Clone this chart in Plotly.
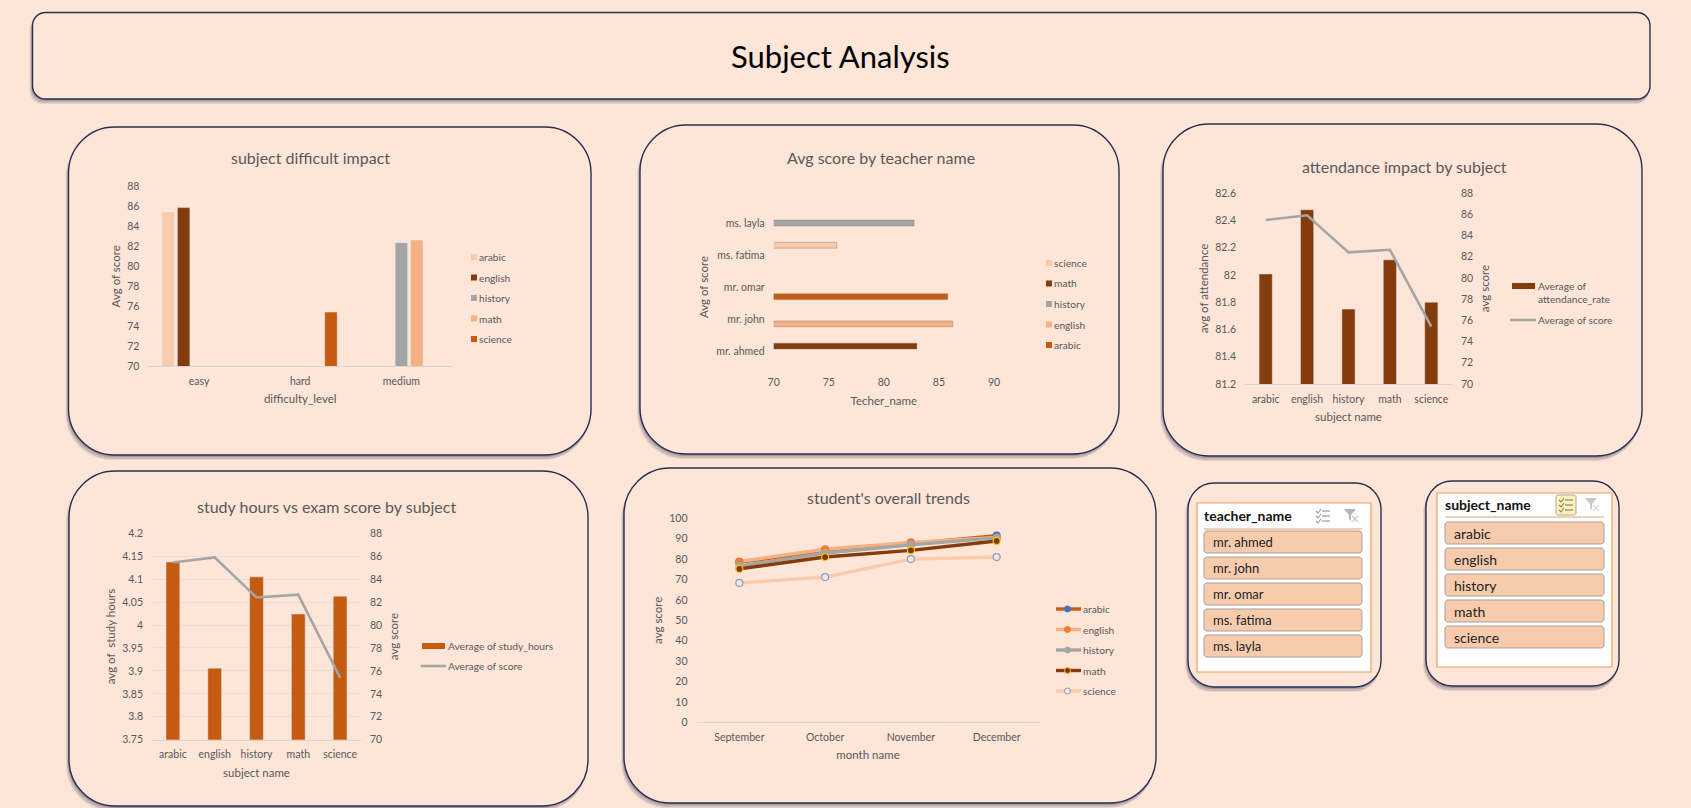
import plotly.graph_objects as go

W, H = 1691, 808
BG = "#fde5d8"
NAVY = "#2a2f4f"
TXT = "#595959"
FONT = "Lato"

subjects = ["arabic", "english", "history", "math", "science"]
difficulty_levels = ["easy", "hard", "medium"]
teachers = ["mr. ahmed", "mr. john", "mr. omar", "ms. fatima", "ms. layla"]
months = ["September", "October", "November", "December"]

# avg score per subject, difficulty
diff_arabic = [85.46, None, None]
diff_english = [85.9, None, None]
diff_history = [None, None, 82.38]
diff_math = [None, None, 82.65]
diff_science = [None, 75.42, None]

# avg score per teacher
teach_arabic = [None, None, 85.8, None, None]
teach_english = [None, 86.25, None, None, None]
teach_history = [None, None, None, None, 82.74]
teach_math = [83.0, None, None, None, None]
teach_science = [None, None, None, 75.72, None]

avg_score = [85.46, 85.9, 82.4, 82.65, 75.4]
avg_attendance = [82.007, 82.477, 81.749, 82.11, 81.8]
avg_study_hours = [4.1375, 3.906, 4.105, 4.024, 4.063]

# monthly trends
trend_arabic = [78.5, 84.0, 87.5, 91.5]
trend_english = [78.8, 84.8, 88.2, 90.6]
trend_history = [76.6, 83.0, 87.0, 90.4]
trend_math = [75.2, 81.0, 84.3, 88.9]
trend_science = [68.3, 71.2, 80.0, 81.0]


def X(px):
    return px / W


def Y(py):
    return 1 - py / H


def round_rect(x0, y0, x1, y1, r):
    # svg path in paper coords with rounded corners
    k = 0.45 * r
    pts = [
        ("M", x0 + r, y0), ("L", x1 - r, y0),
        ("C", x1 - k, y0, x1, y0 + k, x1, y0 + r), ("L", x1, y1 - r),
        ("C", x1, y1 - k, x1 - k, y1, x1 - r, y1), ("L", x0 + r, y1),
        ("C", x0 + k, y1, x0, y1 - k, x0, y1 - r), ("L", x0, y0 + r),
        ("C", x0, y0 + k, x0 + k, y0, x0 + r, y0),
    ]
    out = ""
    for p in pts:
        out += p[0]
        vals = p[1:]
        out += " ".join(
            f"{X(vals[i]):.5f},{Y(vals[i + 1]):.5f}" for i in range(0, len(vals), 2)
        )
        out += " "
    return out + "Z"


shapes = []
notes = []


def add_box(x0, y0, x1, y1, r, fill, line=None, width=1.0):
    shapes.append(dict(type="path", xref="paper", yref="paper", layer="below",
                       path=round_rect(x0, y0, x1, y1, r), fillcolor=fill,
                       line=dict(color=line or fill, width=width if line else 0)))


def add_card(x0, y0, x1, y1, r):
    # soft drop shadow, then the card itself
    for dx, dy, op in [(3, 5, 0.10), (2, 4, 0.16), (1, 2, 0.22)]:
        shapes.append(dict(type="path", xref="paper", yref="paper", layer="below",
                           path=round_rect(x0 - dx, y0 + dy, x1 - dx / 2, y1 + dy, r),
                           fillcolor=NAVY, opacity=op, line=dict(width=0)))
    add_box(x0, y0, x1, y1, r, BG, NAVY, 1.4)


def add_text(x, y, text, size=10.2, color=TXT, anchor="left", bold=False):
    if bold:
        text = f"<b>{text}</b>"
    if anchor == "left":
        x -= 2  # annotation padding
    notes.append(dict(x=X(x), y=Y(y), xref="paper", yref="paper", text=text, showarrow=False,
                      xanchor=anchor, yanchor="middle", align="left",
                      font=dict(family=FONT, size=size, color=color)))


def add_line(x0, y0, x1, y1, color, width):
    shapes.append(dict(type="line", xref="paper", yref="paper", layer="below",
                       x0=X(x0), y0=Y(y0), x1=X(x1), y1=Y(y1),
                       line=dict(color=color, width=width)))


def square_key(x, y, name, color):
    shapes.append(dict(type="rect", xref="paper", yref="paper", layer="below",
                       x0=X(x), x1=X(x + 6), y0=Y(y - 3), y1=Y(y + 3),
                       fillcolor=color, line=dict(width=0)))
    add_text(x + 8, y, name)


def dot(x, y, r, fill, line, lw=1.0):
    shapes.append(dict(type="circle", xref="paper", yref="paper", layer="below",
                       x0=X(x - r), x1=X(x + r), y0=Y(y - r), y1=Y(y + r),
                       fillcolor=fill, line=dict(color=line, width=lw)))


def list_icon(cx, cy, color):
    for dy in (-5, 0, 5):
        add_line(cx - 1, cy + dy, cx + 7, cy + dy, color, 1.2)
        shapes.append(dict(type="path", xref="paper", yref="paper", layer="below",
                           path=f"M{X(cx - 7)},{Y(cy + dy)} L{X(cx - 5)},{Y(cy + dy + 2)} L{X(cx - 2)},{Y(cy + dy - 2)}",
                           line=dict(color=color, width=1.1)))


def clear_icon(cx, cy, color, xcolor):
    shapes.append(dict(type="path", xref="paper", yref="paper", layer="below",
                       path=f"M{X(cx - 7)},{Y(cy - 6)} L{X(cx + 5)},{Y(cy - 6)} L{X(cx)},{Y(cy)} L{X(cx)},{Y(cy + 6)} L{X(cx - 2)},{Y(cy + 4)} L{X(cx - 2)},{Y(cy)} Z",
                       fillcolor=color, line=dict(width=0)))
    add_line(cx + 1, cy + 1, cx + 7, cy + 7, xcolor, 1.2)
    add_line(cx + 7, cy + 1, cx + 1, cy + 7, xcolor, 1.2)


def slicer(card, panel, head, rule_y, items, item_x, item_ys, text_x, title_x, title_y, size):
    add_card(*card, 26)
    add_box(*panel, 0, "#ffffff", "#e8a060", 1.2)
    add_text(title_x, title_y, head, size=14, color="#111111", bold=True)
    add_line(item_x[0], rule_y, item_x[1], rule_y, "#e8a060", 1)
    for name, (y0, y1) in zip(items, item_ys):
        add_box(item_x[0], y0, item_x[1], y1, 3, "#f8cbad", "#a5a09c", 1)
        add_text(text_x + 1, (y0 + y1) / 2, name, size=size, color="#222222")


COL = dict(pale="#f8cbad", dark="#843c0c", grey="#a5a5a5", peach="#f4b183", orange="#c55a11")
fig = go.Figure()

# --- subject difficult impact
diff_series = [diff_arabic, diff_english, diff_history, diff_math, diff_science]
diff_colors = [COL["pale"], COL["dark"], COL["grey"], COL["peach"], COL["orange"]]
for name, vals, c in zip(subjects, diff_series, diff_colors):
    fig.add_trace(go.Bar(x=difficulty_levels, y=vals, name=name, marker_color=c,
                         width=0.124, xaxis="x", yaxis="y", showlegend=False))

# --- avg score by teacher
teach_series = [teach_arabic, teach_english, teach_history, teach_math, teach_science]
teach_colors = [COL["orange"], COL["peach"], COL["grey"], COL["dark"], COL["pale"]]
for name, vals, c in zip(subjects, teach_series, teach_colors):
    fig.add_trace(go.Bar(y=teachers, x=vals, name=name, orientation="h", width=0.18,
                         marker=dict(color=c, line=dict(color="#7f7060", width=0.4)),
                         xaxis="x2", yaxis="y2", showlegend=False))

# --- attendance
fig.add_trace(go.Bar(x=subjects, y=avg_attendance, name="Average of attendance_rate", width=0.32,
                     marker_color=COL["dark"], xaxis="x3", yaxis="y3", showlegend=False))
fig.add_trace(go.Scatter(x=subjects, y=avg_score, name="Average of score", mode="lines",
                         line=dict(color=COL["grey"], width=2.6), xaxis="x3", yaxis="y4", showlegend=False))

# --- study hours
fig.add_trace(go.Bar(x=subjects, y=avg_study_hours, name="Average of study_hours", width=0.33,
                     marker_color=COL["orange"], xaxis="x4", yaxis="y5", showlegend=False))
fig.add_trace(go.Scatter(x=subjects, y=avg_score, name="Average of score", mode="lines",
                         line=dict(color=COL["grey"], width=2.6), xaxis="x4", yaxis="y6", showlegend=False))

# --- trends
trend_series = [trend_arabic, trend_english, trend_history, trend_math, trend_science]
trend_lines = [COL["orange"], COL["peach"], COL["grey"], COL["dark"], COL["pale"]]
trend_fill = ["#4472c4", "#ed7d31", "#a5a5a5", "#7a3a08", BG]
trend_edge = ["#4472c4", "#ed7d31", "#a5a5a5", "#ffc000", "#7f9fd0"]
for name, vals, lc, mf, me in zip(subjects, trend_series, trend_lines, trend_fill, trend_edge):
    fig.add_trace(go.Scatter(x=months, y=vals, name=name, mode="lines+markers",
                             line=dict(color=lc, width=3.4),
                             marker=dict(size=7, color=mf, line=dict(color=me, width=1.2)),
                             xaxis="x5", yaxis="y7", showlegend=False))

# --- background cards
add_card(32.5, 12.5, 1650, 99, 13)
add_text(840, 56, "Subject Analysis", size=31, color="#000000", anchor="center")

add_card(68.5, 127, 591, 455, 46)
add_card(640, 125, 1119, 454, 46)
add_card(1163, 124, 1642, 456, 46)
add_card(69, 471, 588, 806, 46)
add_card(624, 468, 1156, 803, 46)

add_text(310, 157, "subject difficult impact", size=16, anchor="center")
add_text(881, 157, "Avg score by teacher name", size=16, anchor="center")
add_text(1404, 167, "attendance impact by subject", size=16, anchor="center")
add_text(326.5, 506, "study hours vs exam score by subject", size=16, anchor="center")
add_text(888.5, 497, "student's overall trends", size=16, anchor="center")

# --- legends
for i, (name, c) in enumerate(zip(subjects, diff_colors)):
    square_key(471, 257 + i * 20.5, name, c)
for i, (name, c) in enumerate(zip(reversed(subjects), reversed(teach_colors))):
    square_key(1046, 263 + i * 20.5, name, c)

add_line(1512, 286, 1535, 286, COL["dark"], 6)
add_text(1538, 286, "Average of")
add_text(1538, 299, "attendance_rate")
add_line(1510, 320, 1536, 320, COL["grey"], 2.6)
add_text(1538, 320, "Average of score")

add_line(422, 646, 445, 646, COL["orange"], 6)
add_text(447.5, 646, "Average of study_hours")
add_line(420.5, 666, 446, 666, COL["grey"], 2.6)
add_text(447.5, 666, "Average of score")

for i, (name, lc, mf, me) in enumerate(zip(subjects, trend_lines, trend_fill, trend_edge)):
    ly = 609 + i * 20.5
    add_line(1056, ly, 1081, ly, lc, 3.4)
    dot(1067.5, ly, 3, mf, me)
    add_text(1083, ly, name)

# --- slicers
slicer((1188, 483, 1381, 687), (1197, 503, 1371, 672), "teacher_name", 529, teachers,
       (1204, 1362), [(531, 553), (557, 579), (583, 605), (609, 631), (635, 657)],
       1212, 1204, 515, 13)
list_icon(1323, 516, "#9a9a9a")
clear_icon(1351, 515, "#b5b5b5", "#c8c8c8")

slicer((1426, 481, 1619, 686), (1437, 493, 1612, 667), "subject_name", 517, subjects,
       (1445, 1604), [(522, 544), (548, 570), (574, 596), (600, 622), (626, 648)],
       1453, 1445, 504, 14)
add_box(1556, 495, 1576, 515, 2, "#fdf0c0", "#b0a890", 1)
list_icon(1566, 505, "#8a8a6a")
clear_icon(1592, 504, "#c8c8c8", "#d8d8d8")

tick = dict(family=FONT, size=10.5, color=TXT)
title_font = dict(family=FONT, size=11.5, color=TXT)


def xa(x0, x1, anchor, text, standoff=5, tstand=9, line=True):
    return dict(domain=[X(x0), X(x1)], anchor=anchor, showgrid=False, zeroline=False, automargin=False,
                showline=line, linecolor="#dcd3cc", linewidth=1, ticks="",
                tickfont=tick, ticklabelstandoff=standoff,
                title=dict(text=text, font=title_font, standoff=tstand))


def ya(y_bottom, y_top, anchor, text, rng, dtick, side="left", grid=False, overlay=None, tstand=4):
    d = dict(domain=[Y(y_bottom), Y(y_top)], anchor=anchor, side=side, range=rng, dtick=dtick,
             showgrid=grid, gridcolor="#eaded4", gridwidth=1, zeroline=False, showline=False, automargin=False,
             ticks="", tickfont=tick, ticklabelstandoff=8,
             title=dict(text=text, font=title_font, standoff=tstand))
    if overlay:
        d["overlaying"] = overlay
    return d


layout_axes = dict(
    xaxis=xa(148.4, 452, "y", "difficulty_level"),
    yaxis=ya(366, 186.7, "x", "Avg of score", [70, 88], 2),
    xaxis2=dict(xa(773.7, 994, "y2", "Techer_name", standoff=7, tstand=10, line=False), range=[70, 90], dtick=5),
    yaxis2=dict(domain=[Y(367), Y(207)], anchor="x2", showgrid=False, zeroline=False, ticks="", automargin=False,
                tickfont=tick, ticklabelstandoff=8, categoryorder="array", categoryarray=teachers,
                title=dict(text="Avg of score", font=title_font, standoff=5)),
    xaxis3=xa(1245, 1452, "y3", "subject name"),
    yaxis3=ya(384, 193, "x3", "avg of attendance", [81.2, 82.6], 0.2),
    yaxis4=ya(384, 193, "x3", "avg score", [70, 88], 2, side="right", overlay="y3", tstand=8),
    xaxis4=xa(152, 361, "y5", "subject name"),
    yaxis5=ya(739.7, 533.3, "x4", "avg of  study hours", [3.75, 4.2], 0.05, grid=True),
    yaxis6=ya(739.7, 533.3, "x4", "avg score", [70, 88], 2, side="right", overlay="y5", tstand=8),
    xaxis5=dict(xa(696.5, 1039.5, "y7", "month name"), range=[-0.5, 3.5]),
    yaxis7=ya(722.3, 518.3, "x5", "avg score", [0, 100], 10),
)

fig.update_layout(
    width=W, height=H, autosize=False,
    margin=dict(l=0, r=0, t=0, b=0, autoexpand=False),
    paper_bgcolor=BG, plot_bgcolor="rgba(0,0,0,0)",
    barmode="group", bargap=0.24, bargroupgap=0,
    shapes=shapes, annotations=notes,
    font=dict(family=FONT, color=TXT),
    **layout_axes,
)

fig.write_html("out.html", config={"displayModeBar": False},
               post_script="document.body.style.margin='0';document.documentElement.style.overflow='hidden';")
